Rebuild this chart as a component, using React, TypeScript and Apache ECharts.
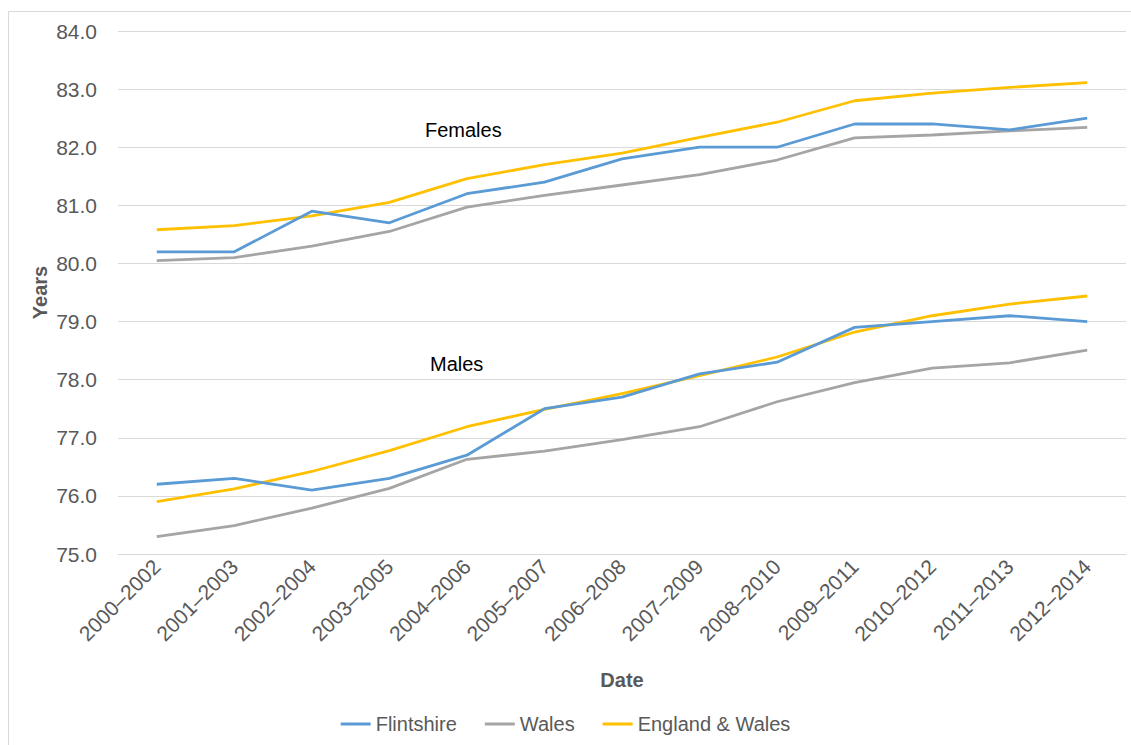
import React, { useEffect, useRef } from "react";
import * as echarts from "echarts";

const categories = [
  "2000–2002", "2001–2003", "2002–2004", "2003–2005", "2004–2006", "2005–2007", "2006–2008",
  "2007–2009", "2008–2010", "2009–2011", "2010–2012", "2011–2013", "2012–2014",
];

const femaleFlintshire = [80.2, 80.2, 80.9, 80.7, 81.2, 81.4, 81.8, 82.0, 82.0, 82.4, 82.4, 82.3, 82.5];
const femaleWales = [80.05, 80.1, 80.3, 80.55, 80.97, 81.17, 81.35, 81.53, 81.78, 82.16, 82.21, 82.28, 82.34];
const femaleEngWales = [80.58, 80.65, 80.82, 81.05, 81.46, 81.7, 81.9, 82.17, 82.43, 82.8, 82.93, 83.03, 83.11];

const maleFlintshire = [76.2, 76.3, 76.1, 76.3, 76.7, 77.5, 77.7, 78.1, 78.3, 78.9, 79.0, 79.1, 79.0];
const maleWales = [75.3, 75.49, 75.79, 76.13, 76.63, 76.77, 76.97, 77.19, 77.62, 77.95, 78.2, 78.29, 78.51];
const maleEngWales = [75.9, 76.12, 76.42, 76.78, 77.19, 77.49, 77.76, 78.07, 78.39, 78.82, 79.1, 79.3, 79.44];

const seriesNames = ["Flintshire", "Wales", "England & Wales"];
const colors = ["#5B9BD5", "#A5A5A5", "#FFC000"];

export default function App() {
  const ref = useRef<HTMLDivElement>(null);
  useEffect(() => {
    if (!ref.current) return;
    const chart = echarts.init(ref.current, null, { renderer: "svg" });
    const font = "'Liberation Sans', Arial, sans-serif";
    const groups = [
      [femaleFlintshire, femaleWales, femaleEngWales],
      [maleFlintshire, maleWales, maleEngWales],
    ];
    const series: any[] = [];
    groups.forEach((g) => {
      g.forEach((data, i) => {
        series.push({
          type: "line",
          name: seriesNames[i],
          data,
          showSymbol: false,
          symbol: "none",
          lineStyle: { width: 2.8, color: colors[i] },
          itemStyle: { color: colors[i] },
          z: 3 - i,
        });
      });
    });
    chart.setOption({
      animation: false,
      textStyle: { fontFamily: font },
      color: colors,
      grid: { left: 118, right: 5, top: 31, bottom: 191, containLabel: false },
      graphic: [
        {
          type: "rect",
          shape: { x: 8.5, y: 11.5, width: 1200, height: 800 },
          style: { fill: "none", stroke: "#D9D9D9", lineWidth: 1 },
          silent: true,
        },
        {
          type: "text",
          left: 425,
          top: 120,
          style: { text: "Females", font: `20px ${font}`, fill: "#000000" },
        },
        {
          type: "text",
          left: 430,
          top: 354,
          style: { text: "Males", font: `20px ${font}`, fill: "#000000" },
        },
      ],
      legend: {
        bottom: 6,
        left: "center",
        itemWidth: 30,
        itemHeight: 3,
        itemGap: 28,
        icon: "rect",
        data: seriesNames,
        textStyle: { fontSize: 20, color: "#595959", fontFamily: font },
      },
      xAxis: {
        type: "category",
        data: categories,
        boundaryGap: true,
        name: "Date",
        nameLocation: "middle",
        nameGap: 116,
        nameMoveOverlap: false,
        nameTextStyle: { fontSize: 20, fontWeight: "bold", color: "#595959", fontFamily: font },
        axisLine: { show: true, lineStyle: { color: "#D9D9D9" } },
        axisTick: { show: false },
        axisLabel: { rotate: 45, fontSize: 21, color: "#595959", margin: 9, fontFamily: font, interval: 0 },
      },
      yAxis: {
        type: "value",
        min: 75,
        max: 84,
        interval: 1,
        name: "Years",
        nameLocation: "middle",
        nameGap: 68,
        nameMoveOverlap: false,
        nameTextStyle: { fontSize: 20, fontWeight: "bold", color: "#595959", fontFamily: font },
        axisLine: { show: false },
        axisTick: { show: false },
        axisLabel: {
          fontSize: 21,
          color: "#595959",
          margin: 21,
          fontFamily: font,
          formatter: (v: number) => v.toFixed(1),
        },
        splitLine: { lineStyle: { color: "#D9D9D9", width: 1 } },
      },
      series,
    });
    return () => chart.dispose();
  }, []);
  return (
    <div
      ref={ref}
      style={{ position: "fixed", left: 0, top: 0, width: 1131, height: 745, background: "#fff" }}
    />
  );
}
